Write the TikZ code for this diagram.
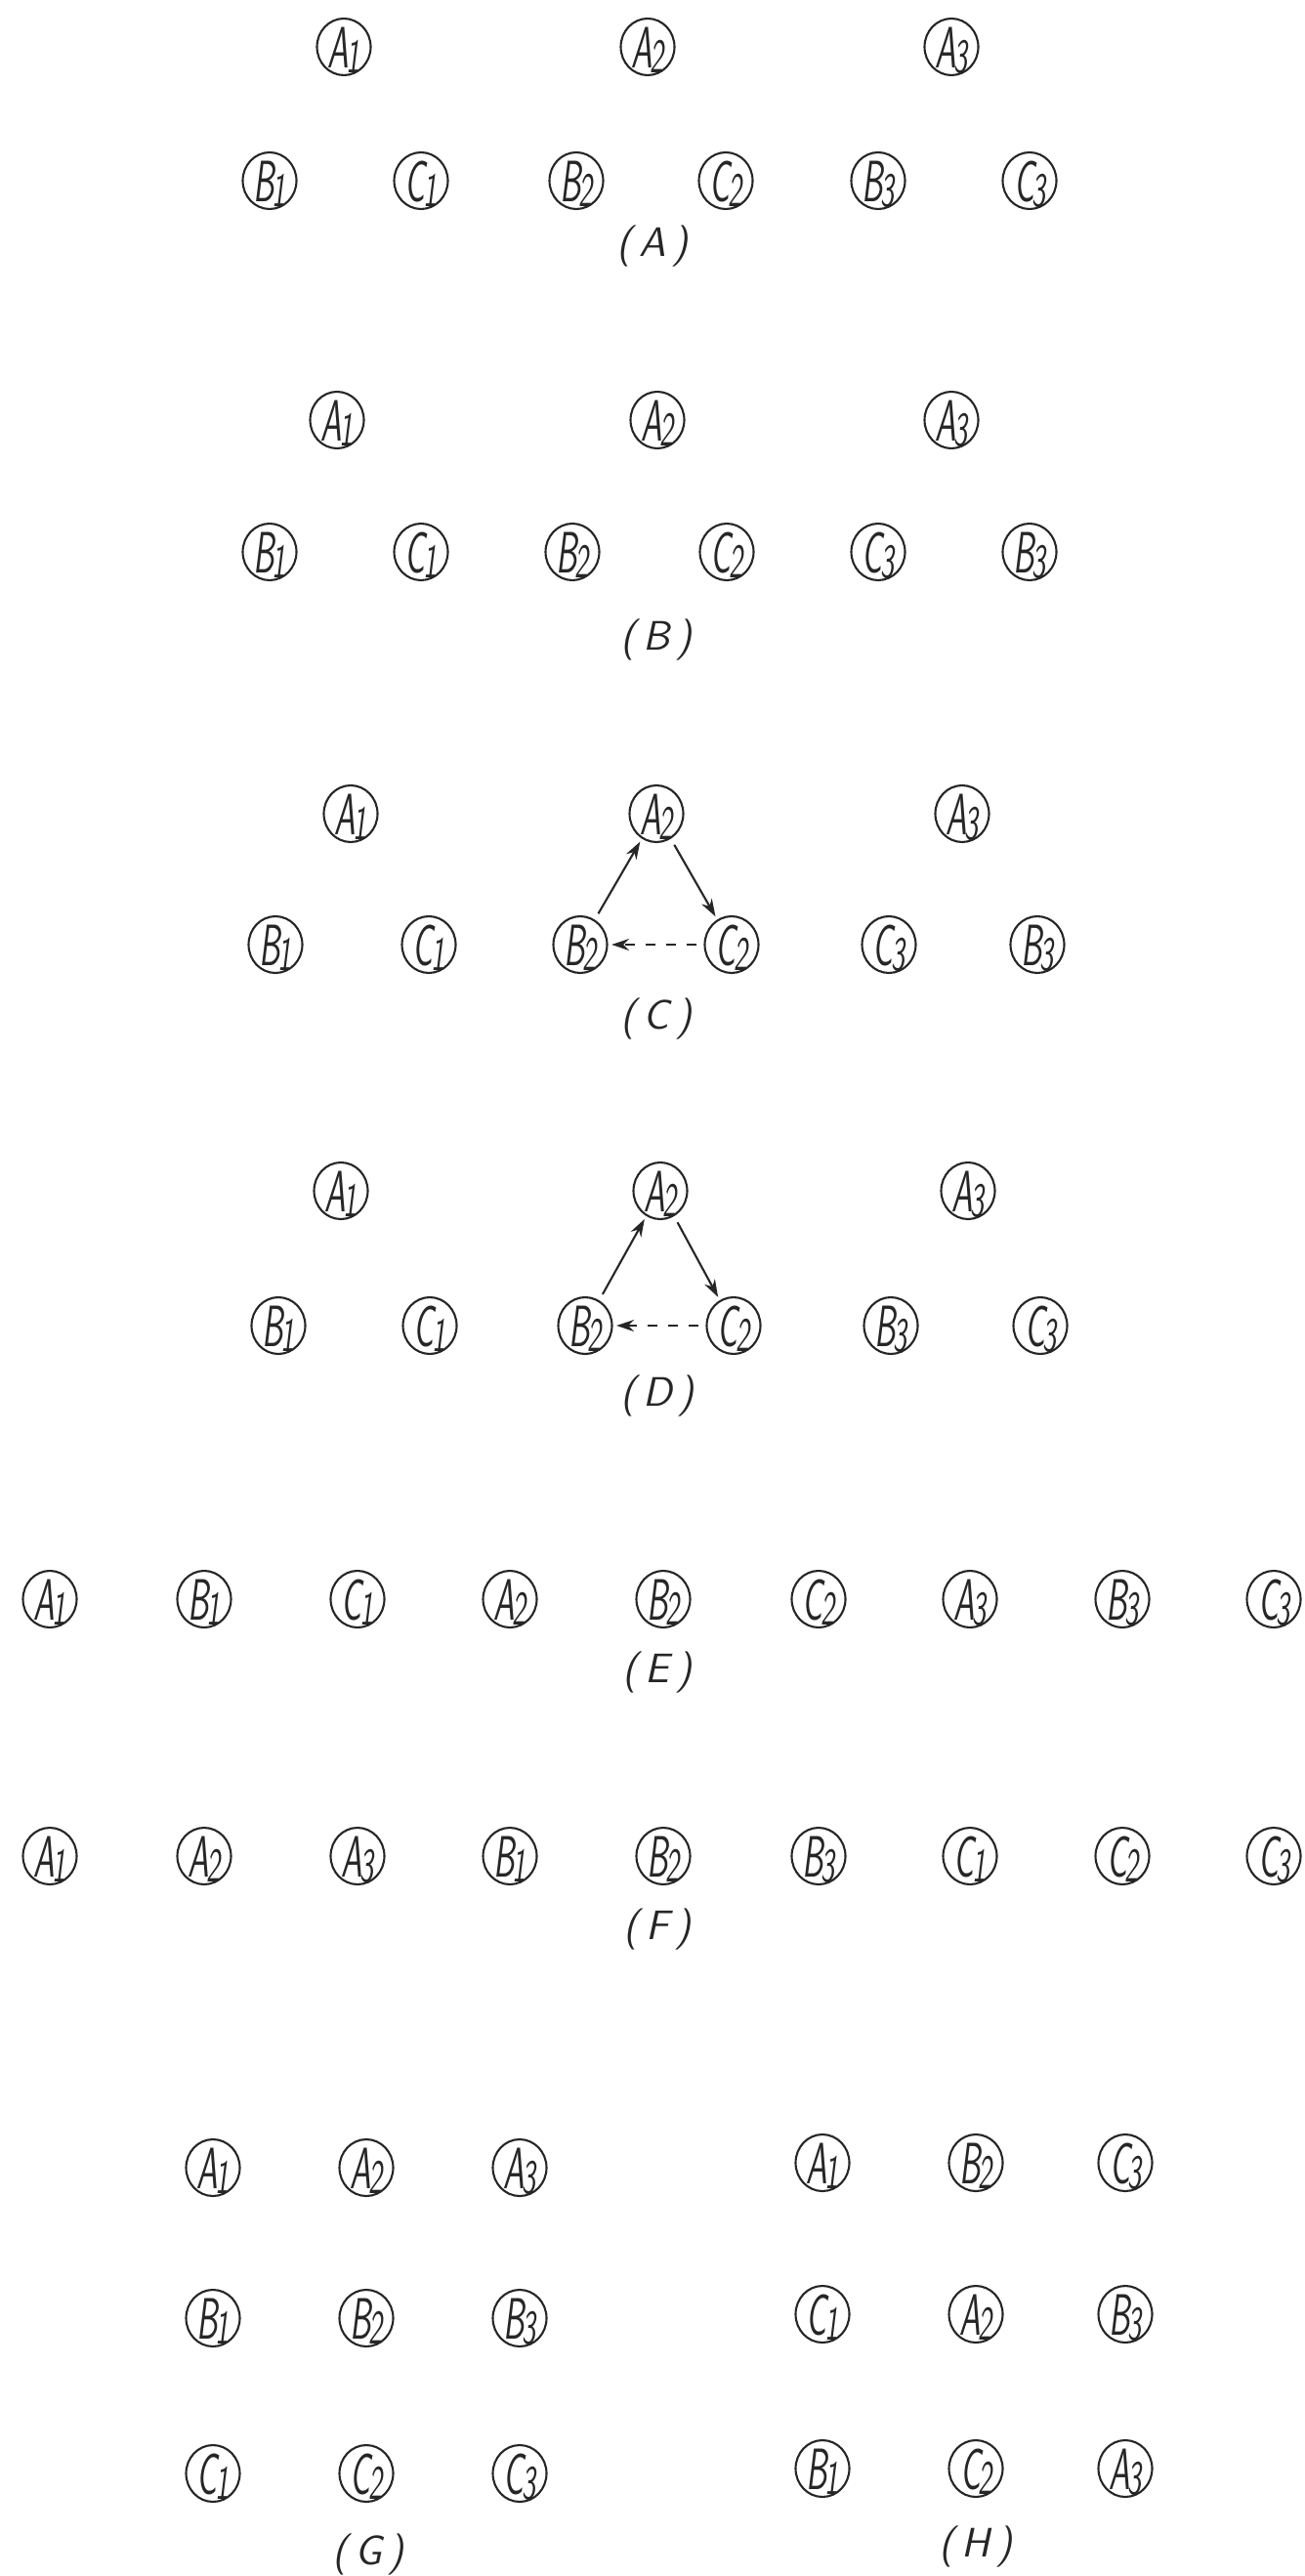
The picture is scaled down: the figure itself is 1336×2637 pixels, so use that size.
\documentclass[tikz,border=0pt]{standalone}
\usepackage{xcolor}
\definecolor{cInk}{HTML}{262626}
\usepackage{tikz}
\usetikzlibrary{positioning,arrows.meta,shapes.geometric}
% element label: tall condensed letter + lowered index, kept out of the node size
\newcommand{\elem}[2]{\smash{\makebox[0pt]{\raisebox{-0.36em}{%
  \scalebox{0.58}[1]{#1\kern-0.08em\raisebox{-0.2ex}{\fontsize{14}{14}\selectfont #2}}}}}}
\tikzset{
  node-elem/.style={draw=cInk,semithick,ellipse,inner sep=0pt,
    minimum width=5.5mm,minimum height=5.8mm,text=cInk,
    font=\fontsize{17}{19}\selectfont\sffamily\slshape},
  node-tag/.style={text=cInk,font=\fontsize{12}{14}\selectfont\sffamily\slshape},
  arrow/.style={-{Stealth[length=1.8mm,width=1.2mm]},semithick,draw=cInk,shorten >=1pt,shorten <=2pt},
  arrow-dash/.style={arrow,dashed},
}

\begin{document}
\begin{tikzpicture}[x=0.1mm,y=-0.1mm]
  \useasboundingbox (0,0) rectangle (1336,2637);
  % (A)
  \foreach \l/\d/\x in {A/1/352,A/2/663,A/3/974}
    \node[node-elem] (a-\l\d) at (\x,48) {\elem{\l}{\d}};
  \foreach \l/\d/\x in {B/1/276,C/1/431,B/2/590,C/2/743,B/3/899,C/3/1054}
    \node[node-elem] (a-\l\d) at (\x,185) {\elem{\l}{\d}};
  \node[node-tag] (tag-a) at (668,252) {(\,A\,)};
  % (B)
  \foreach \l/\d/\x in {A/1/345,A/2/673,A/3/974}
    \node[node-elem] (b-\l\d) at (\x,430) {\elem{\l}{\d}};
  \foreach \l/\d/\x in {B/1/276,C/1/431,B/2/586,C/2/744,C/3/899,B/3/1054}
    \node[node-elem] (b-\l\d) at (\x,565) {\elem{\l}{\d}};
  \node[node-tag] (tag-b) at (672,655) {(\,B\,)};
  % (C)
  \foreach \l/\d/\x in {A/1/359,A/2/672,A/3/985}
    \node[node-elem] (c-\l\d) at (\x,833) {\elem{\l}{\d}};
  \foreach \l/\d/\x in {B/1/282,C/1/439,B/2/594,C/2/749,C/3/910,B/3/1062}
    \node[node-elem] (c-\l\d) at (\x,967) {\elem{\l}{\d}};
  \node[node-tag] (tag-c) at (672,1043) {(\,C\,)};
  \draw[arrow] (c-B2) -- (c-A2);
  \draw[arrow] (c-A2) -- (c-C2);
  \draw[arrow-dash] (c-C2) -- (c-B2);
  % (D)
  \foreach \l/\d/\x in {A/1/349,A/2/676,A/3/991}
    \node[node-elem] (d-\l\d) at (\x,1219) {\elem{\l}{\d}};
  \foreach \l/\d/\x in {B/1/285,C/1/440,B/2/599,C/2/751,B/3/912,C/3/1065}
    \node[node-elem] (d-\l\d) at (\x,1357) {\elem{\l}{\d}};
  \node[node-tag] (tag-d) at (673,1429) {(\,D\,)};
  \draw[arrow] (d-B2) -- (d-A2);
  \draw[arrow] (d-A2) -- (d-C2);
  \draw[arrow-dash] (d-C2) -- (d-B2);
  % (E)
  \foreach \l/\d/\x in {A/1/51,B/1/209,C/1/366,A/2/522,B/2/679,C/2/838,A/3/993,B/3/1149,C/3/1304}
    \node[node-elem] (e-\l\d) at (\x,1637) {\elem{\l}{\d}};
  \node[node-tag] (tag-e) at (673,1712) {(\,E\,)};
  % (F)
  \foreach \l/\d/\x in {A/1/51,A/2/209,A/3/366,B/1/522,B/2/679,B/3/838,C/1/993,C/2/1149,C/3/1304}
    \node[node-elem] (f-\l\d) at (\x,1900) {\elem{\l}{\d}};
  \node[node-tag] (tag-f) at (673,1975) {(\,F\,)};
  % (G)
  \foreach \l/\d/\x/\y in {A/1/218/2219,A/2/375/2219,A/3/532/2219,
      B/1/218/2373,B/2/375/2373,B/3/532/2373,
      C/1/218/2532,C/2/375/2532,C/3/532/2532}
    \node[node-elem] (g-\l\d) at (\x,\y) {\elem{\l}{\d}};
  \node[node-tag] (tag-g) at (377,2615) {(\,G\,)};
  % (H)
  \foreach \l/\d/\x/\y in {A/1/842/2214,B/2/999/2214,C/3/1152/2214,
      C/1/842/2369,A/2/999/2369,B/3/1152/2369,
      B/1/842/2527,C/2/999/2527,A/3/1152/2527}
    \node[node-elem] (h-\l\d) at (\x,\y) {\elem{\l}{\d}};
  \node[node-tag] (tag-h) at (999,2607) {(\,H\,)};
\end{tikzpicture}
\end{document}
